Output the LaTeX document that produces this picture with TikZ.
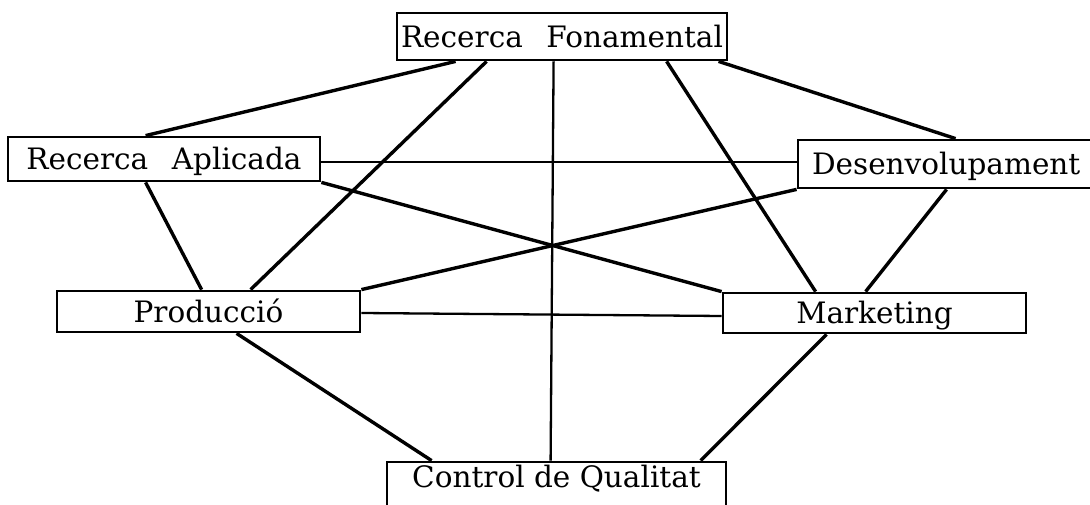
\documentclass[tikz,border=0pt]{standalone}
\usepackage{fontspec}
\setmainfont{DejaVu Serif}
\usepackage{tikz}
\usetikzlibrary{positioning}

\begin{document}
\begin{tikzpicture}[
    x=1pt, y=-1pt,
    box/.style={
        draw,
        line width=2.8pt,
        inner sep=0pt,
        text height=21.5pt,
        text depth=0pt,
        font=\fontsize{29.5}{32}\selectfont
    },
    link/.style={line width=3.4pt},
    flat link/.style={line width=2.3pt}
]
\useasboundingbox (0,0) rectangle (1090,505);

% the six departments
\node (rf) [box, minimum width=330pt, minimum height=47pt] at (562,36.5) {Recerca\hspace{0.8em}Fonamental};
\node (ra) [box, minimum width=312pt, minimum height=44pt] at (164,159) {Recerca\hspace{0.8em}Aplicada};
\node (des) [box, minimum width=302pt, minimum height=48pt, text width=302pt, align=left] at (949,164) {\hspace{14pt}Desenvolupament};
\node (prod) [box, minimum width=303pt, minimum height=41pt] at (208.5,311.5) {Producció};
\node (mkt) [box, minimum width=303pt, minimum height=40pt] at (874.5,313) {Marketing};
\node (cq) [box, minimum width=339pt, minimum height=53pt, text depth=23.5pt] at (556.5,488.5) {Control de Qualitat};

% every pair is linked
\draw[link] ([xshift=60pt]rf.south west) -- ([xshift=139pt]ra.north west);
\draw[link] ([xshift=91pt]rf.south west) -- ([xshift=195pt]prod.north west);
\draw[flat link] ([xshift=158pt]rf.south west) -- ([xshift=165pt]cq.north west);
\draw[link] ([xshift=271pt]rf.south west) -- ([xshift=94pt]mkt.north west);
\draw[link] ([xshift=323pt]rf.south west) -- ([xshift=159pt]des.north west);

\draw[flat link] ([yshift=-3pt]ra.east) -- ([yshift=2pt]des.west);
\draw[link] (ra.south east) -- (mkt.north west);
\draw[link] ([xshift=139pt]ra.south west) -- ([xshift=146pt]prod.north west);

\draw[link] (des.south west) -- (prod.north east);
\draw[link] ([xshift=150pt]des.south west) -- ([xshift=144pt]mkt.north west);

\draw[flat link] ([yshift=-1.5pt]prod.east) -- ([yshift=-3pt]mkt.west);
\draw[link] ([xshift=181pt]prod.south west) -- ([xshift=46pt]cq.north west);
\draw[link] ([xshift=105pt]mkt.south west) -- ([xshift=315pt]cq.north west);

\end{tikzpicture}
\end{document}
